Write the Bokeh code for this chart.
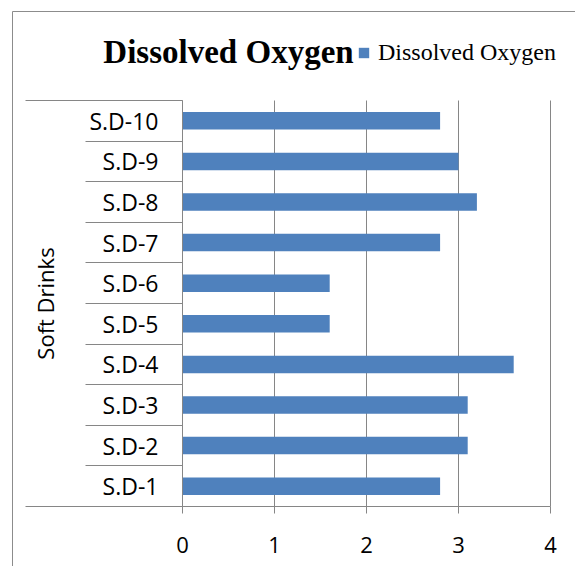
from bokeh.plotting import figure
from bokeh.models import (Range1d, LinearAxis, FixedTicker, CustomJSTickFormatter,
                          Legend, LegendItem, Label, ColumnDataSource, BoxAnnotation)
from bokeh.embed import file_html
from bokeh.resources import INLINE

# ---- data ----
categories = ["S.D-1", "S.D-2", "S.D-3", "S.D-4", "S.D-5",
              "S.D-6", "S.D-7", "S.D-8", "S.D-9", "S.D-10"]
dissolved_oxygen = [2.8, 3.1, 3.1, 3.6, 1.6, 1.6, 2.8, 3.2, 3.0, 2.8]
x_ticks = [0, 1, 2, 3, 4]
title_text = "Dissolved Oxygen"
series_name = "Dissolved Oxygen"
y_axis_title = "Soft Drinks"

# ---- style / layout ----
GRAY = "#868686"
BORDER = "#8c8c8c"
FONT = "Open Sans"
SERIF = "Liberation Serif"
BAR = "#4F81BD"

W, H = 575, 566            # canvas size
PA_L, PA_R, PA_T, PA_B = 182, 550, 100, 506   # plot area in pixels
n = len(categories)
sx = (PA_R - PA_L) / (x_ticks[-1] - x_ticks[0])   # px per x unit
sy = (PA_B - PA_T) / n                             # px per category


def dx(px):
    return x_ticks[0] + (px - PA_L) / sx


def dy(py):
    return (PA_B - py) / sy


centers = [i + 0.5 for i in range(n)]
boundaries = list(range(n + 1))

p = figure(width=W, height=H, output_backend="svg", toolbar_location=None,
           x_range=Range1d(dx(0), dx(W)), y_range=Range1d(dy(H), dy(0)),
           x_axis_type=None, y_axis_type=None, title_location=None,
           min_border=0, tools="")
p.outline_line_color = None
p.outline_line_alpha = 0
p.background_fill_color = "white"
p.border_fill_color = "white"

# outer chart border (top and left sides visible)
p.line(x=[dx(12), dx(W)], y=[dy(11), dy(11)], line_color=BORDER, line_width=1)
p.line(x=[dx(12), dx(12)], y=[dy(11), dy(H)], line_color=BORDER, line_width=1)

# vertical grid lines
p.multi_line(xs=[[t, t] for t in x_ticks[1:]], ys=[[0, n] for _ in x_ticks[1:]],
             line_color=GRAY, line_width=1)

# long category-axis lines at top and bottom
p.multi_line(xs=[[dx(25), 0], [dx(25), 0]], ys=[[0, 0], [n, n]],
             line_color=GRAY, line_width=1)

src = ColumnDataSource(dict(y=centers, val=dissolved_oxygen, cat=categories))
r = p.hbar(y="y", left=0, right="val", height=0.43, source=src,
           fill_color=BAR, line_color=None)

xaxis = LinearAxis(ticker=FixedTicker(ticks=x_ticks), fixed_location=0,
                   bounds=(x_ticks[0], x_ticks[-1]),
                   major_tick_in=0, major_tick_out=7,
                   minor_tick_in=0, minor_tick_out=0,
                   axis_line_color=GRAY, major_tick_line_color=GRAY,
                   major_label_text_font=FONT, major_label_text_font_size="22px",
                   major_label_text_color="black", major_label_standoff=23)
p.add_layout(xaxis, "below")

yfmt = CustomJSTickFormatter(args=dict(labels=categories), code="""
const i = Math.round(tick - 0.5);
return (i >= 0 && i < labels.length) ? labels[i] : '';
""")
yaxis = LinearAxis(ticker=FixedTicker(ticks=centers, minor_ticks=boundaries),
                   formatter=yfmt, fixed_location=0, bounds=(0, n),
                   major_tick_in=0, major_tick_out=0,
                   minor_tick_in=0, minor_tick_out=97,
                   minor_tick_line_color=GRAY, axis_line_color=GRAY,
                   major_label_text_font=FONT, major_label_text_font_size="23px",
                   major_label_text_color="black", major_label_standoff=-73,
                   axis_label=y_axis_title, axis_label_text_font=FONT,
                   axis_label_text_font_size="22px", axis_label_text_font_style="normal",
                   axis_label_text_color="black", axis_label_standoff=26)
p.add_layout(yaxis, "left")

legend = Legend(items=[LegendItem(label=series_name, renderers=[r])],
                location=(357, H - 52 - 14), padding=0, margin=0,
                glyph_width=13, glyph_height=13, label_standoff=8,
                label_text_font=SERIF, label_text_font_size="24px",
                label_text_color="black",
                border_line_color=None, background_fill_alpha=0)
p.add_layout(legend)

p.add_layout(Label(x=dx(228), y=dy(51), text=title_text, text_align="center",
                   text_baseline="alphabetic", text_font=SERIF,
                   text_font_style="bold", text_font_size="33px", text_color="black"))

# keep the right edge of the canvas clear (the chart box continues past the window)
p.add_layout(BoxAnnotation(left=dx(W - 5), right=dx(W + 5), top=dy(12), bottom=dy(H + 5),
                           fill_color="white", fill_alpha=1, line_color=None))

open("out.html", "w").write(file_html(p, INLINE))
